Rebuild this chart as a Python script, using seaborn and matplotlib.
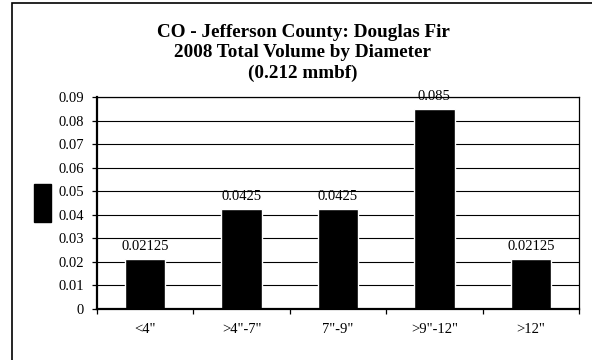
import pandas as pd
import seaborn as sns
import matplotlib.pyplot as plt
from matplotlib.patches import Rectangle
from matplotlib.ticker import FixedLocator, FuncFormatter

# chart values
diameter = ['<4"', '>4"-7"', '7"-9"', '>9"-12"', '>12"']
volume = [0.02125, 0.0425, 0.0425, 0.085, 0.02125]
y_ticks = [0, 0.01, 0.02, 0.03, 0.04, 0.05, 0.06, 0.07, 0.08, 0.09]
title_lines = ["CO - Jefferson County: Douglas Fir",
               "2008 Total Volume by Diameter",
               "(0.212 mmbf)"]

sns.set_theme(style="white")
plt.rcParams["font.family"] = ["Liberation Serif", "DejaVu Serif"]

df = pd.DataFrame({"diameter": diameter, "volume": volume})

W, H = 592, 360
fig = plt.figure(figsize=(W / 100, H / 100), dpi=100)
ax = fig.add_axes([97 / W, 1 - 309 / H, (579 - 97) / W, (309 - 97) / H])

sns.barplot(df, x="diameter", y="volume", color="black", saturation=1,
            width=0.42, ax=ax)

ax.set_xlim(-0.5, len(diameter) - 0.5)
ax.set_ylim(0, 0.09)
ax.yaxis.set_major_locator(FixedLocator(y_ticks))
ax.yaxis.set_major_formatter(FuncFormatter(lambda v, p: f"{v:g}"))
ax.grid(axis="y", color="black", linewidth=0.8)
ax.set_axisbelow(True)
ax.set_xlabel("")
ax.set_ylabel("")

for s in ["left", "bottom"]:
    ax.spines[s].set_linewidth(1.6)
for s in ["top", "right"]:
    ax.spines[s].set_linewidth(0.9)
for s in ax.spines.values():
    s.set_color("black")

# ticks on category borders, labels in the middle
ax.xaxis.set_minor_locator(FixedLocator([i - 0.5 for i in range(len(diameter) + 1)]))
ax.tick_params(axis="x", which="major", length=0, pad=10, labelsize=10.5)
ax.tick_params(axis="x", which="minor", bottom=True, length=3.5, width=0.9, color="black")
ax.tick_params(axis="y", left=True, length=3.5, width=0.9, color="black", pad=6, labelsize=10.5)
for lab in ax.get_xticklabels() + ax.get_yticklabels():
    lab.set_color("black")

ax.bar_label(ax.containers[0], labels=[f"{v:g}" for v in volume],
             padding=4, fontsize=10.5, color="black")

fig.text(303 / W, 1 - 53 / H, "\n".join(title_lines), ha="center", va="center",
         fontsize=13.8, fontweight="bold", linespacing=1.25, color="black")

# legend key without text
fig.patches.append(Rectangle((34 / W, 1 - 222 / H), 17 / W, 38 / H,
                             transform=fig.transFigure, facecolor="black",
                             edgecolor="black"))
# outer chart border (right and bottom edges fall outside the picture)
fig.patches.append(Rectangle((12 / W, -10 / H), 600 / W, 367 / H,
                             transform=fig.transFigure, fill=False,
                             edgecolor="black", linewidth=1.2))

fig.savefig("out.png", dpi=100)
